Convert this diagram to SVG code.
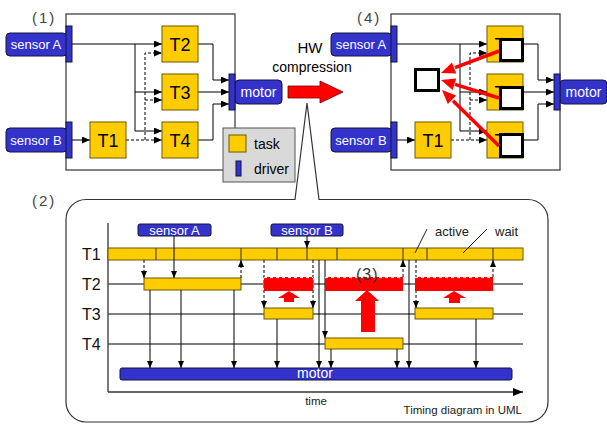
<svg xmlns="http://www.w3.org/2000/svg" width="607" height="424" viewBox="0 0 607 424">
<defs>
<style>
text{font-family:"Liberation Sans",Arial,sans-serif}
.blue{fill:#3333cc;stroke:#14143c;stroke-width:1}
.yel{fill:#ffcc00;stroke:#6b5a00;stroke-width:1}
.ln{fill:none;stroke:#000;stroke-width:1}
.dash{stroke-dasharray:3,2}
.frame{fill:#fff;stroke:#333;stroke-width:1.2}
.wt{fill:#fff;text-anchor:middle}
.tk{fill:#000;font-size:18px;text-anchor:middle}
.lab{fill:#444;font-size:15px;letter-spacing:2px}
.row{stroke:#555;stroke-width:1.3}
.sq{fill:#fff;stroke:#000;stroke-width:3}
.red{fill:#ff0000}
</style>
<marker id="a" markerWidth="8" markerHeight="7" refX="8" refY="3.5" orient="auto" markerUnits="userSpaceOnUse"><path d="M0,0 L8,3.5 L0,7 z" fill="#000"/></marker>
<marker id="t" markerWidth="7" markerHeight="6" refX="7" refY="3" orient="auto" markerUnits="userSpaceOnUse"><path d="M0,0 L7,3 L0,6 z" fill="#000"/></marker>
<marker id="ax" markerWidth="10" markerHeight="8" refX="10" refY="4" orient="auto" markerUnits="userSpaceOnUse"><path d="M0,0 L10,4 L0,8 z" fill="#000"/></marker>
</defs>
<rect width="607" height="424" fill="#fff"/>

<!-- callout (2) -->
<path d="M86,199.5 H295 L307,103 L319,199.5 H528 A20,20 0 0 1 548,219.5 V402 A20,20 0 0 1 528,422 H86 A20,20 0 0 1 66,402 V219.5 A20,20 0 0 1 86,199.5 Z" fill="#fff" stroke="#333" stroke-width="1.2"/>

<!-- labels -->
<text class="lab" x="32" y="23">(1)</text>
<text class="lab" x="357" y="23">(4)</text>
<text class="lab" x="32" y="206">(2)</text>

<!-- ===== Diagram (1) ===== -->
<g id="diagram1">
<rect class="frame" x="66" y="14" width="169" height="156"/>
<g id="d1-connectors">
<path class="ln" d="M72,44 H162" marker-end="url(#a)"/>
<path class="ln" d="M135,44 V131 H162" marker-end="url(#a)"/>
<path class="ln" d="M135,92 H162" marker-end="url(#a)"/>
<path class="ln" d="M72,140 H90" marker-end="url(#a)"/>
<path class="ln dash" d="M126,140 H162" marker-end="url(#a)"/>
<path class="ln dash" d="M145,140 V53 H162" marker-end="url(#a)"/>
<path class="ln dash" d="M145,100 H162" marker-end="url(#a)"/>
<path class="ln" d="M198,44 H213 V80 H229" marker-end="url(#a)"/>
<path class="ln" d="M198,92 H229" marker-end="url(#a)"/>
<path class="ln" d="M198,140 H213 V104 H229" marker-end="url(#a)"/>
</g>
<g id="d1-sensorA"><rect class="blue" x="6" y="33" width="61" height="23" rx="4"/><text class="wt" x="36" y="49" font-size="13">sensor A</text><rect class="blue" x="66" y="26" width="6" height="36"/></g>
<g id="d1-sensorB"><rect class="blue" x="6" y="128" width="61" height="24" rx="4"/><text class="wt" x="36" y="145" font-size="13">sensor B</text><rect class="blue" x="66" y="122" width="6" height="36"/></g>
<g id="d1-T1"><rect class="yel" x="90" y="122" width="36" height="36"/><text class="tk" x="108" y="147">T1</text></g>
<g id="d1-T2"><rect class="yel" x="162" y="26" width="36" height="36"/><text class="tk" x="180" y="51">T2</text></g>
<g id="d1-T3"><rect class="yel" x="162" y="74" width="36" height="36"/><text class="tk" x="180" y="99">T3</text></g>
<g id="d1-T4"><rect class="yel" x="162" y="122" width="36" height="36"/><text class="tk" x="180" y="147">T4</text></g>
<g id="d1-motor"><rect class="blue" x="235" y="80" width="47" height="24" rx="4"/><text class="wt" x="258.5" y="97" font-size="14">motor</text><rect class="blue" x="229" y="74" width="6" height="36"/></g>
<g id="legend">
<rect x="223" y="128" width="72" height="54" fill="#d9d9d9" stroke="#555" stroke-width="1"/>
<rect class="yel" x="229" y="135" width="17" height="17"/>
<text x="254" y="149" font-size="14" fill="#000">task</text>
<rect class="blue" x="236" y="161" width="5" height="15"/>
<text x="254" y="174" font-size="14" fill="#000">driver</text>
</g>
</g>

<!-- HW compression -->
<g id="hw">
<text x="310" y="53" font-size="15" text-anchor="middle" fill="#000">HW</text>
<text x="312" y="72" font-size="14" text-anchor="middle" fill="#000">compression</text>
<polygon class="red" points="288,86 320,86 320,81 343,92 320,103 320,98 288,98" stroke="#700" stroke-width="0.8"/>
</g>

<!-- ===== Diagram (4) ===== -->
<g id="diagram4" transform="translate(325,0)">
<rect class="frame" x="66" y="14" width="169" height="156"/>
<g id="d4-connectors">
<path class="ln" d="M72,44 H162" marker-end="url(#a)"/>
<path class="ln" d="M135,44 V131 H162" marker-end="url(#a)"/>
<path class="ln" d="M135,92 H162" marker-end="url(#a)"/>
<path class="ln" d="M72,140 H90" marker-end="url(#a)"/>
<path class="ln dash" d="M126,140 H162" marker-end="url(#a)"/>
<path class="ln dash" d="M145,140 V53 H162" marker-end="url(#a)"/>
<path class="ln dash" d="M145,100 H162" marker-end="url(#a)"/>
<path class="ln" d="M198,44 H213 V80 H229" marker-end="url(#a)"/>
<path class="ln" d="M198,92 H229" marker-end="url(#a)"/>
<path class="ln" d="M198,140 H213 V104 H229" marker-end="url(#a)"/>
</g>
<g id="d4-sensorA"><rect class="blue" x="6" y="33" width="61" height="23" rx="4"/><text class="wt" x="36" y="49" font-size="13">sensor A</text><rect class="blue" x="66" y="26" width="6" height="36"/></g>
<g id="d4-sensorB"><rect class="blue" x="6" y="128" width="61" height="24" rx="4"/><text class="wt" x="36" y="145" font-size="13">sensor B</text><rect class="blue" x="66" y="122" width="6" height="36"/></g>
<g id="d4-T1"><rect class="yel" x="90" y="122" width="36" height="36"/><text class="tk" x="108" y="147">T1</text></g>
<g id="d4-T2"><rect class="yel" x="162" y="26" width="36" height="36"/><text class="tk" x="180" y="51">T2</text><rect class="sq" x="175.5" y="39.5" width="22" height="21"/></g>
<g id="d4-T3"><rect class="yel" x="162" y="74" width="36" height="36"/><text class="tk" x="180" y="99">T3</text><rect class="sq" x="175.5" y="87.5" width="22" height="21"/></g>
<g id="d4-T4"><rect class="yel" x="162" y="122" width="36" height="36"/><text class="tk" x="180" y="147">T4</text><rect class="sq" x="175.5" y="134.5" width="22" height="22"/></g>
<g id="d4-hw"><rect class="sq" x="90.5" y="69.5" width="23" height="21"/></g>
<g id="d4-motor"><rect class="blue" x="235" y="80" width="47" height="24" rx="4"/><text class="wt" x="258.5" y="97" font-size="14">motor</text><rect class="blue" x="229" y="74" width="6" height="36"/></g>
</g>
<g id="d4-red-arrows" fill="#ff0000" stroke="none">
<line x1="499" y1="51" x2="455" y2="67.7" stroke="#ff0000" stroke-width="3.5"/>
<polygon points="441,73 452,62.4 456.2,73.6"/>
<line x1="499" y1="98" x2="455" y2="84.4" stroke="#ff0000" stroke-width="3.5"/>
<polygon points="441,80 456.2,78.5 452.6,89.9"/>
<line x1="499" y1="146" x2="453" y2="100.8" stroke="#ff0000" stroke-width="3.5"/>
<polygon points="442,90 456.2,95.5 447.8,104.1"/>
</g>

<!-- ===== Timing diagram (2) ===== -->
<g id="timing">
<g id="rows">
<line class="row" x1="108" y1="284" x2="523" y2="284"/>
<line class="row" x1="108" y1="314" x2="523" y2="314"/>
<line class="row" x1="108" y1="344" x2="523" y2="344"/>
</g>
<g id="axes">
<line x1="108" y1="223" x2="108" y2="392" stroke="#333" stroke-width="1.3"/>
<line x1="108" y1="392" x2="523" y2="392" stroke="#333" stroke-width="1.3" marker-end="url(#ax)"/>
<text x="316" y="405" font-size="11.5" text-anchor="middle" fill="#222">time</text>
<text x="522" y="414" font-size="11.5" text-anchor="end" fill="#222">Timing diagram in UML</text>
</g>
<g id="row-labels" font-size="16" fill="#111">
<text x="82" y="260">T1</text>
<text x="82" y="290">T2</text>
<text x="82" y="320">T3</text>
<text x="82" y="350">T4</text>
</g>
<g id="t-T1">
<rect class="yel" x="108" y="248" width="415" height="12"/>
<path d="M156,248V260M241,248V260M277,248V260M307,248V260M337,248V260M403,248V260M427,248V260M493,248V260" stroke="#333" stroke-width="1"/>
</g>
<g id="t-bars">
<rect class="yel" x="144" y="278" width="97" height="12"/>
<rect class="yel" x="264" y="308" width="49" height="11"/>
<rect class="yel" x="325" y="338" width="78" height="11"/>
<rect class="yel" x="415" y="308" width="78" height="11"/>
</g>
<g id="t-sensorA"><rect class="blue" x="138" y="224" width="73" height="12" rx="2"/><text class="wt" x="174.5" y="235" font-size="13">sensor A</text></g>
<g id="t-sensorB"><rect class="blue" x="271" y="224" width="72" height="12" rx="2"/><text class="wt" x="307" y="235" font-size="13">sensor B</text></g>
<g id="t-motor"><rect class="blue" x="120" y="368" width="392" height="12" rx="2"/><text class="wt" x="315" y="378" font-size="14">motor</text></g>
<g id="t-connectors">
<path class="ln" d="M174,236V278" marker-end="url(#t)"/>
<path class="ln" d="M307,236V248" marker-end="url(#t)"/>
<path class="ln" d="M150,290V368" marker-end="url(#t)"/>
<path class="ln" d="M181,290V368" marker-end="url(#t)"/>
<path class="ln" d="M234,290V368" marker-end="url(#t)"/>
<path class="ln" d="M277,319V368" marker-end="url(#t)"/>
<path class="ln" d="M319,260V368" marker-end="url(#t)"/>
<path class="ln" d="M325,260V338" marker-end="url(#t)"/>
<path class="ln" d="M331,349V368" marker-end="url(#t)"/>
<path class="ln" d="M397,349V368" marker-end="url(#t)"/>
<path class="ln" d="M409,260V368" marker-end="url(#t)"/>
<path class="ln" d="M476,319V368" marker-end="url(#t)"/>
<path class="ln dash" d="M144,260V278" marker-end="url(#t)" stroke="#444"/>
<path class="ln dash" d="M241,278V260" marker-end="url(#t)" stroke="#444"/>
<path class="ln dash" d="M264,260V308" marker-end="url(#t)" stroke="#444"/>
<path class="ln dash" d="M313,260V308" marker-end="url(#t)" stroke="#444"/>
<path class="ln dash" d="M403,277V260" marker-end="url(#t)" stroke="#444"/>
<path class="ln dash" d="M416,260V308" marker-end="url(#t)" stroke="#444"/>
<path class="ln dash" d="M493,277V260" marker-end="url(#t)" stroke="#444"/>
</g>
<g id="t-red">
<rect class="red" x="264" y="277" width="49" height="14"/>
<rect class="red" x="325" y="277" width="78" height="14"/>
<rect class="red" x="415" y="277" width="78" height="14"/>
<path d="M264,277.6H313M325,277.6H403M415,277.6H493" stroke="#fff" stroke-width="1" stroke-dasharray="3,3"/>
<polygon class="red" points="289,291 300,298 294,298 294,302 284,302 284,298 278,298"/>
<polygon class="red" points="367,290 379,301 375,301 375,332 361,332 361,301 355,301"/>
<polygon class="red" points="454,291 466,298 460,298 460,303 449,303 449,298 443,298"/>
</g>
<text x="356" y="280" font-size="16" fill="#333" letter-spacing="1">(3)</text>
<g id="t-notes" fill="#222">
<line x1="427" y1="229" x2="415" y2="253" stroke="#222" stroke-width="1"/>
<line x1="487" y1="229" x2="463" y2="253" stroke="#222" stroke-width="1"/>
<text x="435" y="236" font-size="13">active</text>
<text x="495" y="236" font-size="13">wait</text>
</g>
</g>
</svg>
